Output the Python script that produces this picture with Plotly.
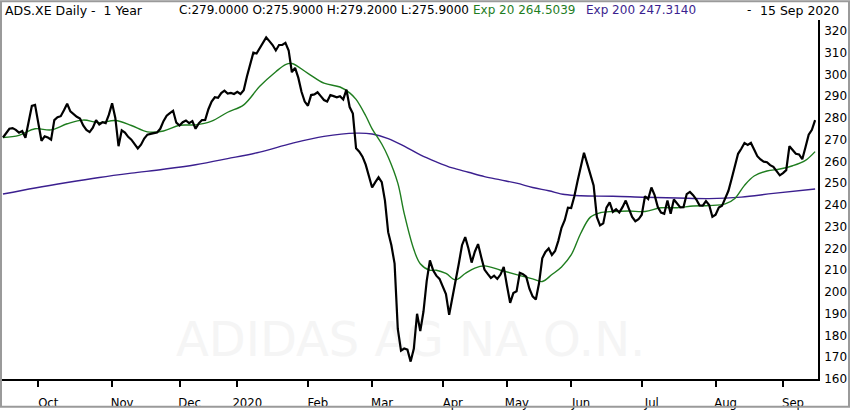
import pandas as pd
import plotly.graph_objects as go

# Xetra trading days, 16 Sep 2019 - 15 Sep 2020
holidays = ["2019-12-24", "2019-12-25", "2019-12-26", "2019-12-31",
            "2020-01-01", "2020-04-10", "2020-04-13", "2020-05-01"]
days = pd.bdate_range("2019-09-16", "2020-09-15")
days = days[~days.isin(pd.to_datetime(holidays))]
dates = [d.strftime("%Y-%m-%d") for d in days]

# daily close
closes = [
    # Sep 2019
    271.0, 273.0, 275.0, 275.3, 274.5, 273.2, 274.0, 270.9, 279.0, 285.5, 286.0,
    # Oct
    277.0, 269.5, 271.5, 271.0, 270.0, 279.0, 280.3, 280.8, 283.5, 286.5, 283.0, 281.6,
    280.5, 279.7, 276.5, 274.5, 273.5, 275.5, 279.0, 277.0, 278.0, 277.6, 281.5,
    # Nov
    286.7, 280.0, 267.0, 274.3, 273.3, 271.3, 270.0, 268.0, 266.0, 267.7, 270.5,
    272.3, 272.8, 273.0, 273.3, 275.0, 278.5, 281.0, 282.2, 283.3, 277.8,
    # Dec
    276.5, 278.0, 278.8, 277.6, 278.5, 275.0, 277.5, 279.0, 279.1, 284.0, 287.5,
    289.5, 289.2, 291.4, 292.5, 291.2, 291.5, 291.0,
    # Jan 2020
    292.0, 291.0, 292.7, 299.0, 305.0, 310.0, 309.6, 312.0, 314.5, 317.0, 315.3,
    313.5, 311.0, 313.5, 313.5, 314.5, 311.0, 301.0, 303.0, 298.5, 292.0, 287.5,
    # Feb
    285.6, 290.5, 290.8, 291.8, 290.0, 288.2, 287.5, 290.5, 290.0, 289.5,
    290.0, 288.5, 293.0, 285.0, 282.0, 266.0, 264.5, 262.2, 258.5, 253.0,
    # Mar
    248.0, 250.5, 252.7, 250.5, 242.0, 227.5, 221.5, 213.0, 183.0, 173.0, 174.0,
    173.5, 168.0, 174.0, 190.0, 182.0, 191.0, 205.0, 214.5, 210.0, 207.5, 206.0,
    # Apr
    202.5, 199.0, 189.5, 197.0, 206.0, 213.0, 221.5, 225.2, 220.0, 213.5,
    218.5, 222.0, 216.0, 210.3, 208.3, 206.4, 207.5, 206.0, 208.0, 211.5,
    # May
    203.0, 195.0, 199.5, 200.3, 208.8, 208.2, 207.0, 201.5, 198.0, 196.5,
    204.0, 215.5, 218.4, 220.0, 217.0, 218.8, 223.5, 229.5, 233.0, 238.7,
    # Jun
    238.6, 244.0, 251.0, 257.0, 264.0, 259.0, 254.0, 249.0, 234.5, 230.6, 231.5,
    238.8, 241.2, 236.8, 238.0, 236.5, 239.0, 242.0, 238.2, 234.5, 232.5, 233.4,
    # Jul
    235.5, 244.0, 242.7, 248.0, 244.5, 239.0, 236.5, 235.9, 242.0, 236.0, 242.5, 240.5,
    238.9, 239.0, 245.0, 246.0, 244.5, 242.5, 239.8, 239.7, 241.8, 240.0, 234.6,
    # Aug
    235.5, 238.8, 239.6, 242.7, 246.5, 252.0, 258.0, 263.5, 265.8, 268.5, 267.6,
    268.5, 265.5, 262.4, 260.9, 259.9, 259.6, 258.3, 257.5, 255.3, 253.6,
    # Sep
    254.6, 256.0, 267.0, 265.0, 263.5, 263.2, 261.0, 266.5, 272.3, 274.5, 279.0,
]

# moving averages at some trading-day positions
ema20_pos = [0, 5, 10, 15, 20, 25, 30, 35, 40, 45, 50, 55, 60, 65, 70, 75, 80, 85, 88, 90,
             95, 100, 105, 108, 110, 113, 115, 118, 120, 123, 125, 128, 130, 133, 135, 138,
             141, 144, 147, 150, 155, 160, 165, 168, 171, 174, 177, 180, 183, 186, 190, 195,
             200, 205, 210, 215, 220, 225, 228, 231, 234, 238, 242, 246, 250, 253]
ema20_vals = [271.0, 272.0, 275.0, 274.5, 277.3, 279.0, 277.8, 278.8, 276.5, 273.6, 274.0,
              276.6, 276.8, 278.5, 282.6, 286.0, 294.5, 301.2, 304.5, 305.0,
              300.5, 296.0, 294.2, 291.5, 288.5, 281.0, 275.0, 268.0, 262.0, 250.0,
              236.0, 219.5, 213.0, 210.0, 210.0, 208.5, 205.6, 208.5, 211.0, 212.0,
              210.0, 208.0, 206.0, 204.8, 208.0, 211.5, 217.0, 227.0, 234.4, 236.4,
              237.0, 237.2, 237.0, 238.7, 238.7, 239.5, 239.7, 240.5, 243.0, 249.0,
              253.3, 255.6, 256.5, 258.0, 260.5, 264.5]
ema200_pos = [0, 10, 20, 30, 40, 50, 60, 70, 80, 90, 100, 110, 115, 120, 125, 130, 135,
              140, 145, 150, 155, 160, 165, 170, 175, 180, 190, 200, 210, 220, 230, 240, 253]
ema200_vals = [245.0, 247.8, 250.3, 252.6, 254.6, 256.4, 258.5, 261.3, 264.3, 268.3, 271.5,
               273.0, 272.6, 270.5, 267.0, 263.0, 259.8, 257.0, 255.0, 253.0, 251.5,
               250.0, 248.0, 246.5, 244.8, 244.2, 244.0, 243.5, 243.2, 242.9, 243.6,
               245.3, 247.3]

month_pos = [11, 34, 55, 73, 95, 115, 137, 157, 177, 199, 222, 243]
month_labels = ["Oct", "Nov", "Dec", "2020", "Feb", "Mar", "Apr", "May", "Jun", "Jul", "Aug", "Sep"]
price_ticks = list(range(160, 330, 10))

# header pieces: (text, colour, left pixel, size)
header_parts = [
    ("ADS.XE Daily -  1 Year", "black", 3, 12.5),
    ("C:279.0000 O:275.9000 H:279.2000 L:275.9000", "black", 177, 12),
    ("Exp 20 264.5039", "#1f7d1f", 471, 12),
    ("Exp 200 247.3140", "#3b1f8f", 584, 12),
    ("-", "black", 745, 12),
]
date_label = "15 Sep 2020"

GREEN = "#1f7d1f"
PURPLE = "#3b1f8f"

fig = go.Figure()

# faint watermark behind the lines
fig.add_trace(go.Scatter(x=[dates[127]], y=[176], mode="text", text=["ADIDAS AG NA O.N."],
                         textfont=dict(family="DejaVu Sans", size=48, color="#f5f5f5"),
                         hoverinfo="skip", showlegend=False))
fig.add_trace(go.Scatter(x=[dates[i] for i in ema200_pos], y=ema200_vals, mode="lines",
                         line=dict(color=PURPLE, width=1.4, shape="spline"), showlegend=False))
fig.add_trace(go.Scatter(x=[dates[i] for i in ema20_pos], y=ema20_vals, mode="lines",
                         line=dict(color=GREEN, width=1.4, shape="spline"), showlegend=False))
fig.add_trace(go.Scatter(x=dates, y=closes, mode="lines",
                         line=dict(color="black", width=2.2), showlegend=False))

L, R, T, B = 2, 32, 20, 29
W, H = 850, 412
pw, ph = W - L - R, H - T - B

fig.update_layout(
    width=W, height=H,
    margin=dict(l=L, r=R, t=T, b=B),
    paper_bgcolor="white", plot_bgcolor="white",
    font=dict(family="DejaVu Sans", size=13, color="black"),
    xaxis=dict(type="category", categoryorder="array", categoryarray=dates,
               range=[-0.3, 253.9], showgrid=False, zeroline=False,
               showline=True, linecolor="black", linewidth=1.5,
               ticks="outside", ticklen=6, tickwidth=1.5, tickcolor="black",
               tickvals=[dates[i] for i in month_pos], ticktext=month_labels,
               ticklabelshift=10, ticklabelstandoff=5,
               tickfont=dict(family="Liberation Sans Narrow, DejaVu Sans Condensed, Liberation Sans", size=13)),
    yaxis=dict(side="right", range=[160, 325], showgrid=False, zeroline=False,
               showline=True, linecolor="black", linewidth=1.5, ticks="",
               tickvals=price_ticks, ticklabelstandoff=2,
               tickfont=dict(family="DejaVu Sans", size=12)),
)

# header text
for txt, col, px, sz in header_parts:
    fig.add_annotation(xref="paper", yref="paper", x=(px - L) / pw, y=1 + 10 / ph,
                       xanchor="left", yanchor="middle", showarrow=False,
                       font=dict(size=sz, color=col), text=txt)
fig.add_annotation(xref="paper", yref="paper", x=(841 - L) / pw, y=1 + 10 / ph, xanchor="right",
                   yanchor="middle", showarrow=False, font=dict(size=12.5), text=date_label)

# grey frame round the whole picture
fig.add_shape(type="rect", xref="paper", yref="paper",
              x0=(1 - L) / pw, x1=(W - 1 - L) / pw, y0=-(B - 1) / ph, y1=(ph + T - 1) / ph,
              line=dict(color="#9a9a9a", width=2), layer="above")

# the page is photographed from its corner, so drop the default body margin
fig.write_html("out.html", config={"displayModeBar": False},
               post_script="document.body.style.margin='0px';")
